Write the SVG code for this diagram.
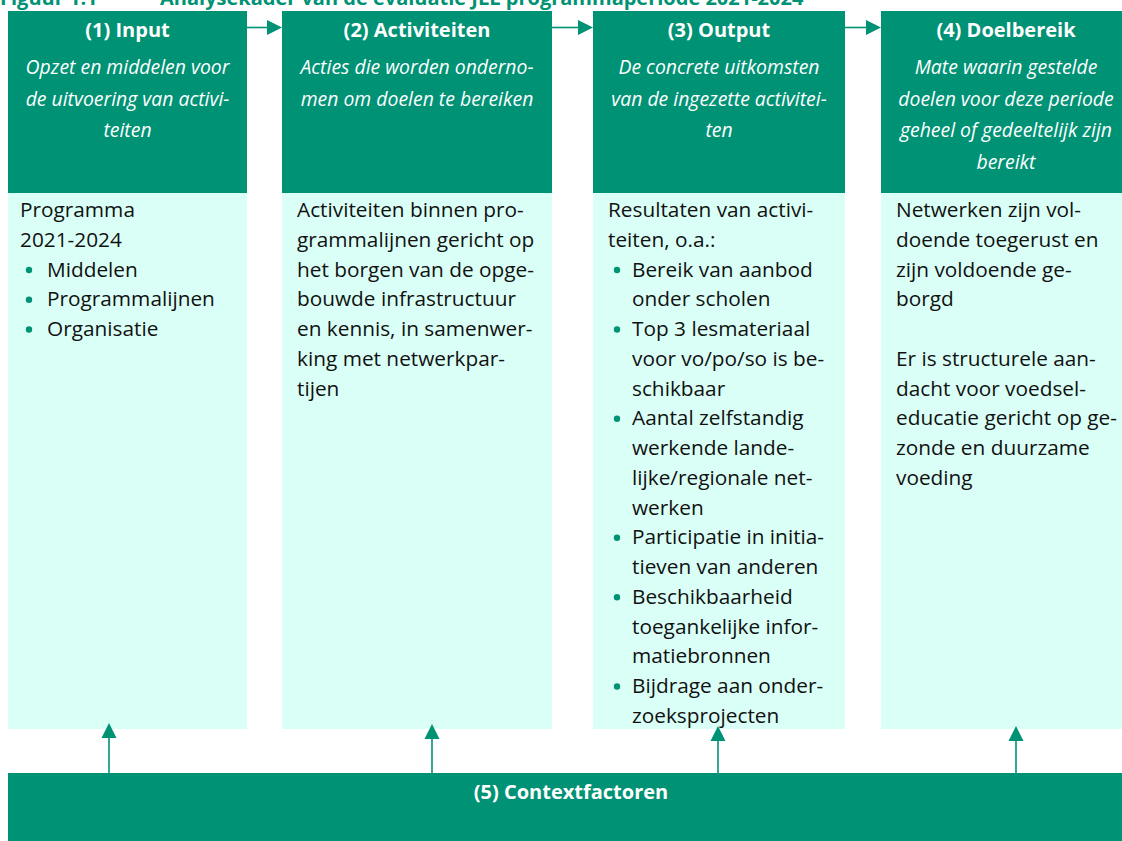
<svg xmlns="http://www.w3.org/2000/svg" width="1122" height="841" viewBox="0 0 1122 841">
<style>
.hdr{fill:#009274}
.body{fill:#dafff7}
.title{font-family:"Open Sans","Noto Sans",sans-serif;font-weight:bold;font-size:20px;fill:#009274}
.ht{font-family:"Open Sans","Noto Sans",sans-serif;font-weight:bold;font-size:20px;fill:#ffffff;text-anchor:middle}
.hi{font-family:"Open Sans","Noto Sans",sans-serif;font-style:italic;font-size:19.4px;fill:#ffffff;text-anchor:middle}
.bt{font-family:"Open Sans","Noto Sans",sans-serif;font-size:20.8px;fill:#111111}
.dot{fill:#009274}
.conn{stroke:#009274;stroke-width:1.6;fill:none}
.ah{fill:#009274}
</style>
<rect width="1122" height="841" fill="#ffffff"/>
<text class="title" x="0" y="5">Figuur 1.1<tspan x="160">Analysekader van de evaluatie JLL programmaperiode 2021-2024</tspan></text>

<g id="input">
<rect class="hdr" x="8" y="11" width="239" height="182"/>
<rect class="body" x="8" y="193" width="239" height="536"/>
<text class="ht" x="127.5" y="37">(1) Input</text>
<text class="hi"><tspan x="127.5" y="74">Opzet en middelen voor</tspan><tspan x="127.5" y="105.7">de uitvoering van activi-</tspan><tspan x="127.5" y="137.4">teiten</tspan></text>
<text class="bt"><tspan x="20" y="217">Programma</tspan><tspan x="20" y="246.75">2021-2024</tspan><tspan x="47" y="276.5">Middelen</tspan><tspan x="47" y="306.25">Programmalijnen</tspan><tspan x="47" y="336">Organisatie</tspan></text>
<circle class="dot" cx="29" cy="270" r="3.2"/>
<circle class="dot" cx="29" cy="299.75" r="3.2"/>
<circle class="dot" cx="29" cy="329.5" r="3.2"/>
</g>

<g id="activiteiten">
<rect class="hdr" x="282" y="11" width="270" height="182"/>
<rect class="body" x="282" y="193" width="270" height="536"/>
<text class="ht" x="417" y="37">(2) Activiteiten</text>
<text class="hi"><tspan x="417" y="74">Acties die worden onderno-</tspan><tspan x="417" y="105.7">men om doelen te bereiken</tspan></text>
<text class="bt"><tspan x="297" y="217">Activiteiten binnen pro-</tspan><tspan x="297" y="246.75">grammalijnen gericht op</tspan><tspan x="297" y="276.5">het borgen van de opge-</tspan><tspan x="297" y="306.25">bouwde infrastructuur</tspan><tspan x="297" y="336">en kennis, in samenwer-</tspan><tspan x="297" y="365.75">king met netwerkpar-</tspan><tspan x="297" y="395.5">tijen</tspan></text>
</g>

<g id="output">
<rect class="hdr" x="593" y="11" width="252" height="182"/>
<rect class="body" x="593" y="193" width="252" height="536"/>
<text class="ht" x="719" y="37">(3) Output</text>
<text class="hi"><tspan x="719" y="74">De concrete uitkomsten</tspan><tspan x="719" y="105.7">van de ingezette activitei-</tspan><tspan x="719" y="137.4">ten</tspan></text>
<text class="bt"><tspan x="608" y="217">Resultaten van activi-</tspan><tspan x="608" y="246.75">teiten, o.a.:</tspan><tspan x="632" y="276.5">Bereik van aanbod</tspan><tspan x="632" y="306.25">onder scholen</tspan><tspan x="632" y="336">Top 3 lesmateriaal</tspan><tspan x="632" y="365.75">voor vo/po/so is be-</tspan><tspan x="632" y="395.5">schikbaar</tspan><tspan x="632" y="425.25">Aantal zelfstandig</tspan><tspan x="632" y="455">werkende lande-</tspan><tspan x="632" y="484.75">lijke/regionale net-</tspan><tspan x="632" y="514.5">werken</tspan><tspan x="632" y="544.25">Participatie in initia-</tspan><tspan x="632" y="574">tieven van anderen</tspan><tspan x="632" y="603.75">Beschikbaarheid</tspan><tspan x="632" y="633.5">toegankelijke infor-</tspan><tspan x="632" y="663.25">matiebronnen</tspan><tspan x="632" y="693">Bijdrage aan onder-</tspan><tspan x="632" y="722.75">zoeksprojecten</tspan></text>
<circle class="dot" cx="617" cy="270" r="3.2"/>
<circle class="dot" cx="617" cy="329.5" r="3.2"/>
<circle class="dot" cx="617" cy="418.75" r="3.2"/>
<circle class="dot" cx="617" cy="537.75" r="3.2"/>
<circle class="dot" cx="617" cy="597.25" r="3.2"/>
<circle class="dot" cx="617" cy="686.5" r="3.2"/>
</g>

<g id="doelbereik">
<rect class="hdr" x="881" y="11" width="250" height="182"/>
<rect class="body" x="881" y="193" width="250" height="536"/>
<text class="ht" x="1006" y="37">(4) Doelbereik</text>
<text class="hi"><tspan x="1006" y="74">Mate waarin gestelde</tspan><tspan x="1006" y="105.7">doelen voor deze periode</tspan><tspan x="1006" y="137.4">geheel of gedeeltelijk zijn</tspan><tspan x="1006" y="169.1">bereikt</tspan></text>
<text class="bt"><tspan x="896" y="217">Netwerken zijn vol-</tspan><tspan x="896" y="246.75">doende toegerust en</tspan><tspan x="896" y="276.5">zijn voldoende ge-</tspan><tspan x="896" y="306.25">borgd</tspan><tspan x="896" y="365.75">Er is structurele aan-</tspan><tspan x="896" y="395.5">dacht voor voedsel-</tspan><tspan x="896" y="425.25">educatie gericht op ge-</tspan><tspan x="896" y="455">zonde en duurzame</tspan><tspan x="896" y="484.75">voeding</tspan></text>
</g>

<g id="contextfactoren">
<rect class="hdr" x="8" y="773" width="1123" height="68"/>
<text class="ht" x="571" y="799">(5) Contextfactoren</text>
</g>

<g id="connectors">
<line class="conn" x1="247" y1="27.5" x2="268" y2="27.5"/>
<polygon class="ah" points="267,20 282,27.5 267,35"/>
<line class="conn" x1="552" y1="27.5" x2="579" y2="27.5"/>
<polygon class="ah" points="578,20 593,27.5 578,35"/>
<line class="conn" x1="845" y1="27.5" x2="867" y2="27.5"/>
<polygon class="ah" points="866,20 881,27.5 866,35"/>
<line class="conn" x1="109" y1="773" x2="109" y2="737"/>
<polygon class="ah" points="109,723 116.5,738 101.5,738"/>
<line class="conn" x1="432" y1="773" x2="432" y2="738"/>
<polygon class="ah" points="432,724 439.5,739 424.5,739"/>
<line class="conn" x1="718" y1="773" x2="718" y2="740"/>
<polygon class="ah" points="718,726 725.5,741 710.5,741"/>
<line class="conn" x1="1016" y1="773" x2="1016" y2="740"/>
<polygon class="ah" points="1016,726 1023.5,741 1008.5,741"/>
</g>
</svg>
